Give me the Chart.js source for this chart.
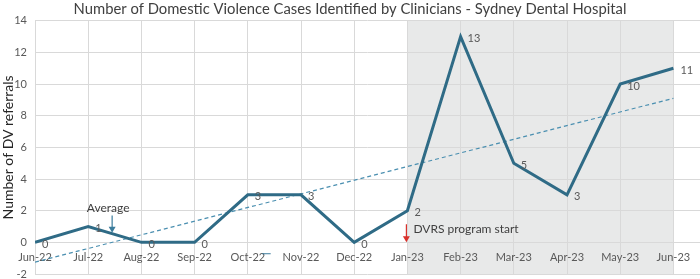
<!DOCTYPE html>
<html>
<head>
<meta charset="utf-8">
<script src="https://cdn.jsdelivr.net/npm/chart.js@4"></script>
<style>
  html, body { margin: 0; padding: 0; background: #fff; }
  #wrap { width: 700px; height: 279px; }
</style>
</head>
<body>
<div id="wrap"><canvas id="dvChart" width="700" height="279"></canvas></div>
<script>
/* DV cases by month */
const months = ['Jun-22', 'Jul-22', 'Aug-22', 'Sep-22', 'Oct-22', 'Nov-22', 'Dec-22',
                'Jan-23', 'Feb-23', 'Mar-23', 'Apr-23', 'May-23', 'Jun-23'];
const referrals = [0, 1, 0, 0, 3, 3, 0, 2, 13, 5, 3, 10, 11];
// trend line ends
const trendStart = -1.25;
const trendEnd = 9.1;
const programStart = 'Jan-23';

const lineColor = '#2f6b86';
const textGray = '#595959';

const startIdx = months.indexOf(programStart);
const lastIdx = months.length - 1;
const referralPoints = referrals.map((v, i) => ({ x: i, y: v }));
const trendPoints = [{ x: 0, y: trendStart }, { x: lastIdx, y: trendEnd }];

// grey band, labels and arrows
const extras = {
  id: 'extras',
  beforeDraw(chart) {
    const { ctx, chartArea, scales } = chart;
    const x0 = scales.x.getPixelForValue(startIdx);
    const x1 = scales.x.getPixelForValue(lastIdx);
    ctx.save();
    ctx.fillStyle = '#e8e9e9';
    ctx.fillRect(x0, chartArea.top, x1 - x0, chartArea.bottom - chartArea.top);
    ctx.restore();
  },
  afterDatasetsDraw(chart) {
    const { ctx, scales } = chart;
    const x = scales.x, y = scales.y;
    ctx.save();
    // value labels
    ctx.font = '11px Lato';
    ctx.fillStyle = textGray;
    ctx.textAlign = 'left';
    ctx.textBaseline = 'middle';
    referrals.forEach((v, i) => {
      ctx.fillText(String(v), x.getPixelForValue(i) + 7, y.getPixelForValue(v) + 2);
    });

    // Average arrow
    const ax = x.getPixelForValue(1.45);
    ctx.fillStyle = '#404040';
    ctx.font = '12px Lato';
    ctx.textAlign = 'center';
    ctx.fillText('Average', ax - 4, y.getPixelForValue(2.15));
    drawArrow(ctx, ax, y.getPixelForValue(1.7), y.getPixelForValue(0.6), '#3b7c9c');

    // program start arrow
    const px = x.getPixelForValue(startIdx) - 1;
    drawArrow(ctx, px, y.getPixelForValue(1.15), y.getPixelForValue(0), '#d9312b');
    ctx.fillStyle = '#404040';
    ctx.textAlign = 'left';
    ctx.fillText('DVRS program start', px + 7, y.getPixelForValue(0.85));

    // stray legend dash beside Oct-22
    ctx.strokeStyle = '#3b7c9c';
    ctx.lineWidth = 1;
    ctx.beginPath();
    ctx.moveTo(x.getPixelForValue(4.27), y.getPixelForValue(-0.72));
    ctx.lineTo(x.getPixelForValue(4.43), y.getPixelForValue(-0.72));
    ctx.stroke();
    ctx.restore();
  }
};

function drawArrow(ctx, x, yTop, yBot, color) {
  ctx.strokeStyle = color;
  ctx.fillStyle = color;
  ctx.lineWidth = 1.2;
  ctx.beginPath();
  ctx.moveTo(x, yTop);
  ctx.lineTo(x, yBot - 5);
  ctx.stroke();
  ctx.beginPath();
  ctx.moveTo(x - 3.5, yBot - 6);
  ctx.lineTo(x + 3.5, yBot - 6);
  ctx.lineTo(x, yBot);
  ctx.closePath();
  ctx.fill();
}

const ctx = document.getElementById('dvChart').getContext('2d');
const dvChart = new Chart(ctx, {
  type: 'line',
  data: {
    datasets: [{
      label: 'DV referrals',
      data: referralPoints,
      borderColor: lineColor,
      borderWidth: 3,
      pointRadius: 0,
      tension: 0,
      order: 1
    }, {
      label: 'Average',
      data: trendPoints,
      borderColor: '#4a8fb0',
      borderWidth: 1.2,
      borderDash: [4, 3],
      pointRadius: 0,
      order: 2
    }]
  },
  options: {
    responsive: false,
    animation: false,
    layout: { padding: 0 },
    plugins: {
      legend: { display: false },
      tooltip: { enabled: false },
      title: {
        display: true,
        text: 'Number of Domestic Violence Cases Identified by Clinicians - Sydney Dental Hospital',
        color: '#404040',
        font: { family: 'Lato', size: 14.8, weight: 'normal' },
        padding: { top: 0, bottom: 3 }
      }
    },
    scales: {
      x: {
        type: 'linear',
        min: 0,
        max: 12.5,
        position: { y: 0 },
        grid: { color: '#d9d9d9', drawTicks: false },
        border: { display: false },
        ticks: {
          stepSize: 1,
          includeBounds: false,
          autoSkip: false,
          maxRotation: 0,
          padding: 9,
          color: textGray,
          font: { family: 'Lato', size: 11 },
          callback: v => months[v] || ''
        }
      },
      y: {
        min: -2,
        max: 14,
        grid: { color: '#d9d9d9', drawTicks: false },
        border: { display: false },
        ticks: {
          stepSize: 2,
          padding: 8,
          color: textGray,
          font: { family: 'Lato', size: 11 }
        },
        title: {
          display: true,
          text: 'Number of DV referrals',
          color: '#262626',
          font: { family: 'Lato', size: 14 },
          padding: 0
        },
        afterFit: s => { s.width = 35; s.paddingBottom = 5; }
      }
    }
  },
  plugins: [extras]
});
</script>
</body>
</html>
